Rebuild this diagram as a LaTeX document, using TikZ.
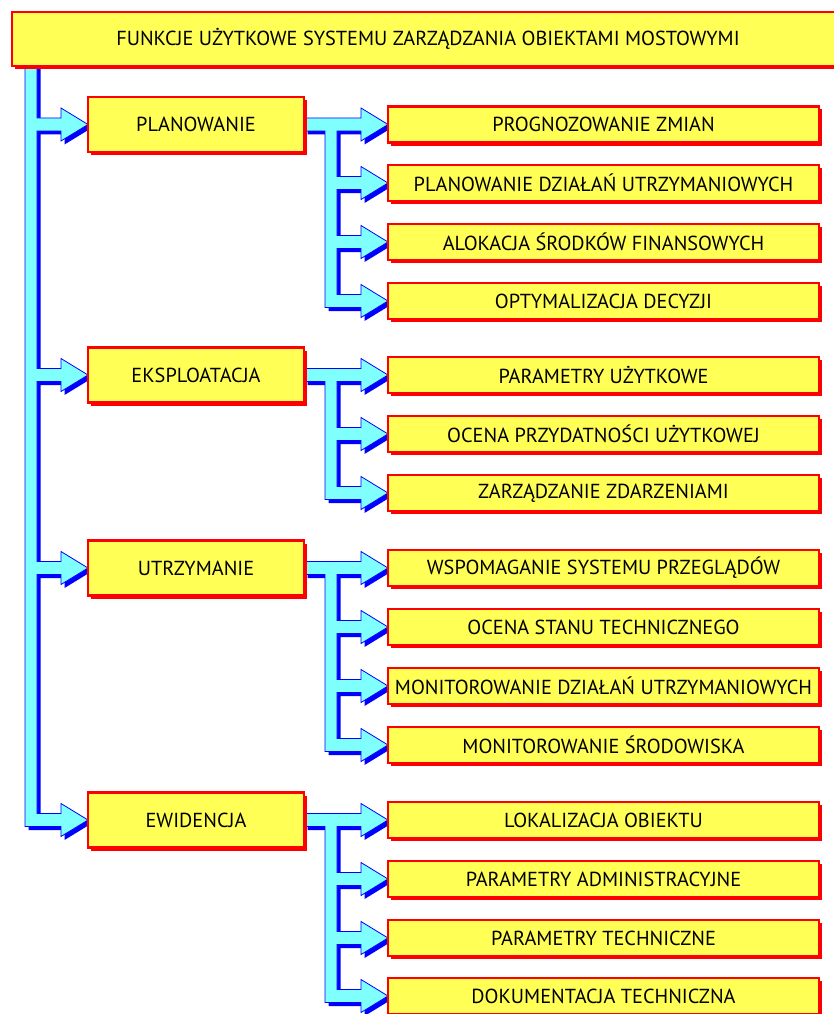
\documentclass[tikz,border=0pt]{standalone}
\usepackage{fontspec}
\setmainfont{PT Sans}
\usetikzlibrary{calc,shadows,backgrounds}
\definecolor{byel}{RGB}{255,255,85}
\definecolor{bred}{RGB}{255,0,0}
\definecolor{acyan}{RGB}{128,255,255}
\definecolor{ablue}{RGB}{0,0,255}
\begin{document}
\begin{tikzpicture}[x=1pt,y=-1pt,
  box/.style={draw=bred, line width=2.5pt, fill=byel,
    general shadow={fill=bred, shadow xshift=3pt, shadow yshift=-3pt},
    inner sep=0pt, outer sep=0pt, font=\fontsize{20.3}{24}\selectfont, text=black},
  lvtwo/.style={box, minimum width=431pt, minimum height=36pt},
  lvone/.style={box, minimum width=216pt, minimum height=55pt},
  tree/.style={draw=ablue, line width=0.8pt, fill=acyan, line join=miter,
    general shadow={fill=ablue, shadow xshift=3.5pt, shadow yshift=-3.5pt}}]
\useasboundingbox (0,0) rectangle (833,1014);

\node[box, minimum width=832pt, minimum height=54pt] (top) at (428,39)
  {FUNKCJE UŻYTKOWE SYSTEMU ZARZĄDZANIA OBIEKTAMI MOSTOWYMI};

\node[lvone] (plan) at (196,124.5) {PLANOWANIE};
\node[lvone] (eksp) at (196,375) {EKSPLOATACJA};
\node[lvone] (utrz) at (196,568) {UTRZYMANIE};
\node[lvone] (ewid) at (196,820) {EWIDENCJA};

\node[lvtwo] (p1) at (603.5,124.5) {PROGNOZOWANIE ZMIAN};
\node[lvtwo] (p2) at (603.5,183) {PLANOWANIE DZIAŁAŃ UTRZYMANIOWYCH};
\node[lvtwo] (p3) at (603.5,242) {ALOKACJA ŚRODKÓW FINANSOWYCH};
\node[lvtwo] (p4) at (603.5,301) {OPTYMALIZACJA DECYZJI};
\node[lvtwo] (e1) at (603.5,375) {PARAMETRY UŻYTKOWE};
\node[lvtwo] (e2) at (603.5,434) {OCENA PRZYDATNOŚCI UŻYTKOWEJ};
\node[lvtwo] (e3) at (603.5,493) {ZARZĄDZANIE ZDARZENIAMI};
\node[lvtwo] (u1) at (603.5,568) {WSPOMAGANIE SYSTEMU PRZEGLĄDÓW};
\node[lvtwo] (u2) at (603.5,627) {OCENA STANU TECHNICZNEGO};
\node[lvtwo] (u3) at (603.5,686) {MONITOROWANIE DZIAŁAŃ UTRZYMANIOWYCH};
\node[lvtwo] (u4) at (603.5,745) {MONITOROWANIE ŚRODOWISKA};
\node[lvtwo] (w1) at (603.5,820) {LOKALIZACJA OBIEKTU};
\node[lvtwo] (w2) at (603.5,879) {PARAMETRY ADMINISTRACYJNE};
\node[lvtwo] (w3) at (603.5,938) {PARAMETRY TECHNICZNE};
\node[lvtwo] (w4) at (603.5,996) {DOKUMENTACJA TECHNICZNA};

\foreach \n in {plan,eksp,utrz,ewid,p1,p2,p3,p4,e1,e2,e3,u1,u2,u3,u4,w1,w2,w3,w4}{
  \coordinate (\n-t) at ($(\n.west)+(-27,-6.5)$);
  \coordinate (\n-b) at ($(\n.west)+(-27,6.5)$);
  \coordinate (\n-T) at ($(\n.west)+(-27,-16.5)$);
  \coordinate (\n-B) at ($(\n.west)+(-27,16.5)$);
}
\foreach \n in {plan,eksp,utrz,ewid}{
  \coordinate (\n-et) at ($(\n.east)+(0,-6.5)$);
  \coordinate (\n-eb) at ($(\n.east)+(0,6.5)$);
  \coordinate (\n-L) at ($(\n.east)+(21,0)$);
  \coordinate (\n-R) at ($(\n.east)+(33,0)$);
}
\coordinate (mL) at (25,60);
\coordinate (mR) at (37,60);

\begin{pgfonlayer}{background}
\fill[white] (0,0) rectangle (833,1014);
\draw[tree] (mL) -- (mR)
  -- (mR |- plan-t) -- (plan-t) -- (plan-T) -- (plan.west) -- (plan-B) -- (plan-b) -- (mR |- plan-b)
  -- (mR |- eksp-t) -- (eksp-t) -- (eksp-T) -- (eksp.west) -- (eksp-B) -- (eksp-b) -- (mR |- eksp-b)
  -- (mR |- utrz-t) -- (utrz-t) -- (utrz-T) -- (utrz.west) -- (utrz-B) -- (utrz-b) -- (mR |- utrz-b)
  -- (mR |- ewid-t) -- (ewid-t) -- (ewid-T) -- (ewid.west) -- (ewid-B) -- (ewid-b) -- (mL |- ewid-b)
  -- cycle;

\draw[tree] (plan-et) -- (p1-t) -- (p1-T) -- (p1.west) -- (p1-B) -- (p1-b) -- (plan-R |- p1-b)
  -- (plan-R |- p2-t) -- (p2-t) -- (p2-T) -- (p2.west) -- (p2-B) -- (p2-b) -- (plan-R |- p2-b)
  -- (plan-R |- p3-t) -- (p3-t) -- (p3-T) -- (p3.west) -- (p3-B) -- (p3-b) -- (plan-R |- p3-b)
  -- (plan-R |- p4-t) -- (p4-t) -- (p4-T) -- (p4.west) -- (p4-B) -- (p4-b) -- (plan-L |- p4-b)
  -- (plan-L |- plan-eb) -- (plan-eb) -- cycle;

\draw[tree] (eksp-et) -- (e1-t) -- (e1-T) -- (e1.west) -- (e1-B) -- (e1-b) -- (eksp-R |- e1-b)
  -- (eksp-R |- e2-t) -- (e2-t) -- (e2-T) -- (e2.west) -- (e2-B) -- (e2-b) -- (eksp-R |- e2-b)
  -- (eksp-R |- e3-t) -- (e3-t) -- (e3-T) -- (e3.west) -- (e3-B) -- (e3-b) -- (eksp-L |- e3-b)
  -- (eksp-L |- eksp-eb) -- (eksp-eb) -- cycle;

\draw[tree] (utrz-et) -- (u1-t) -- (u1-T) -- (u1.west) -- (u1-B) -- (u1-b) -- (utrz-R |- u1-b)
  -- (utrz-R |- u2-t) -- (u2-t) -- (u2-T) -- (u2.west) -- (u2-B) -- (u2-b) -- (utrz-R |- u2-b)
  -- (utrz-R |- u3-t) -- (u3-t) -- (u3-T) -- (u3.west) -- (u3-B) -- (u3-b) -- (utrz-R |- u3-b)
  -- (utrz-R |- u4-t) -- (u4-t) -- (u4-T) -- (u4.west) -- (u4-B) -- (u4-b) -- (utrz-L |- u4-b)
  -- (utrz-L |- utrz-eb) -- (utrz-eb) -- cycle;

\draw[tree] (ewid-et) -- (w1-t) -- (w1-T) -- (w1.west) -- (w1-B) -- (w1-b) -- (ewid-R |- w1-b)
  -- (ewid-R |- w2-t) -- (w2-t) -- (w2-T) -- (w2.west) -- (w2-B) -- (w2-b) -- (ewid-R |- w2-b)
  -- (ewid-R |- w3-t) -- (w3-t) -- (w3-T) -- (w3.west) -- (w3-B) -- (w3-b) -- (ewid-R |- w3-b)
  -- (ewid-R |- w4-t) -- (w4-t) -- (w4-T) -- (w4.west) -- (w4-B) -- (w4-b) -- (ewid-L |- w4-b)
  -- (ewid-L |- ewid-eb) -- (ewid-eb) -- cycle;
\end{pgfonlayer}
\end{tikzpicture}
\end{document}
